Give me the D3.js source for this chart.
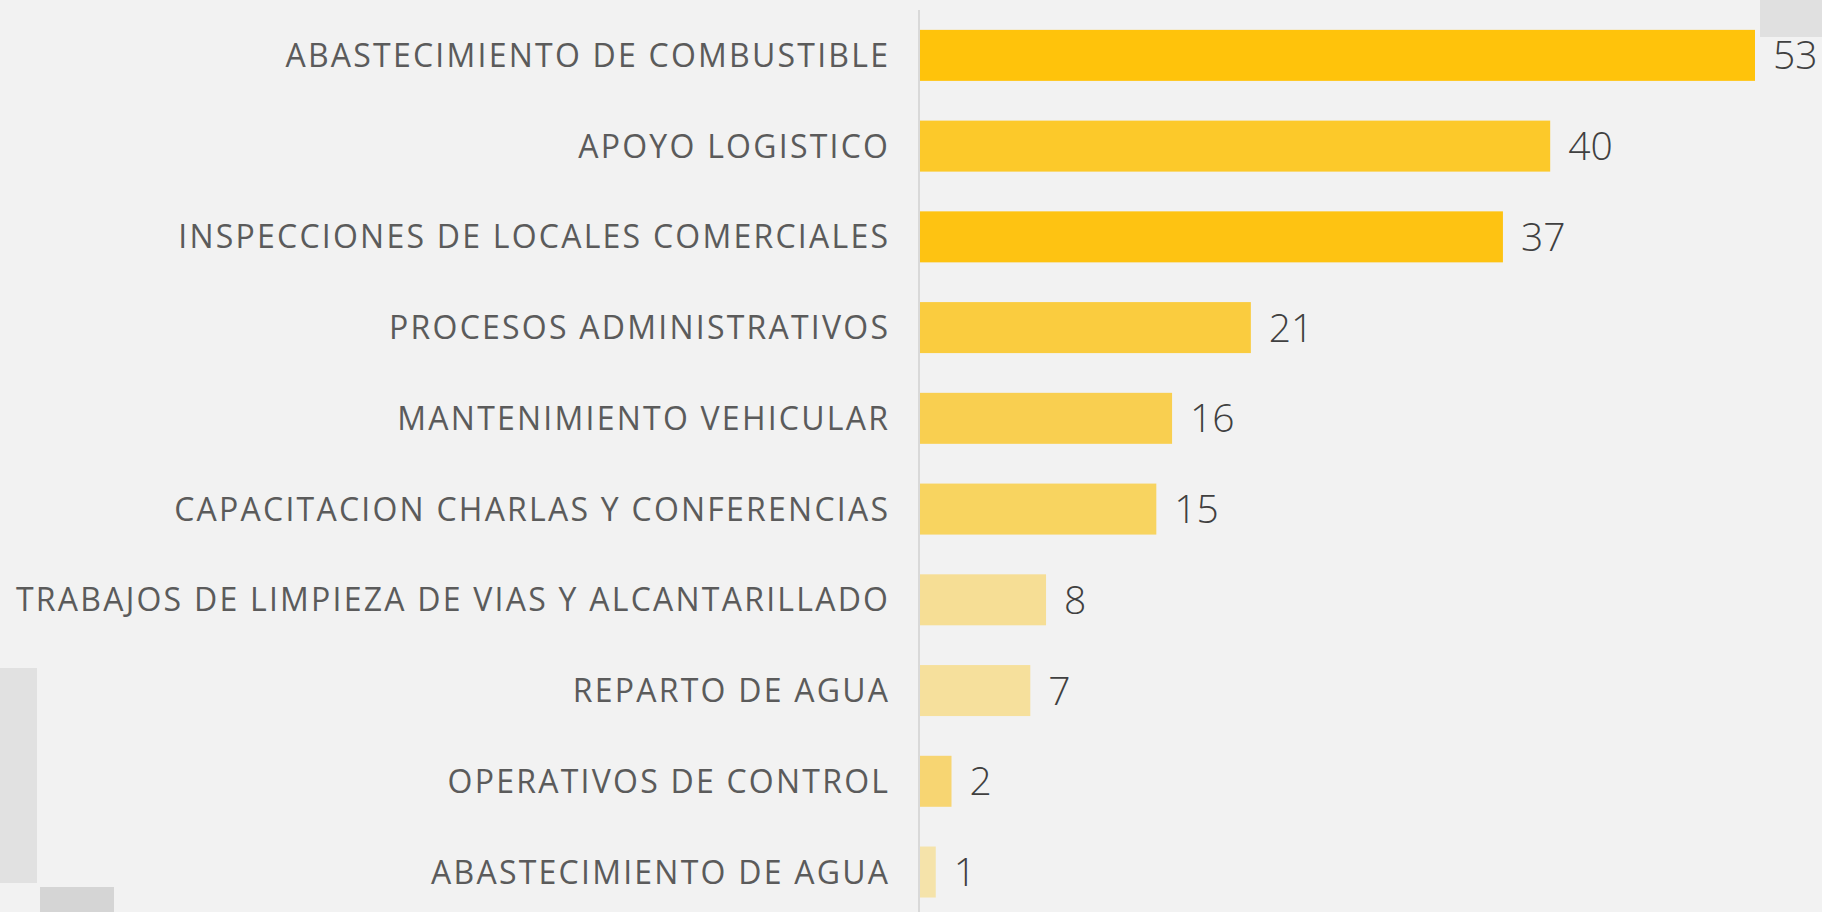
<!DOCTYPE html>
<html>
<head>
<meta charset="utf-8">
<script src="https://cdn.jsdelivr.net/npm/d3@7"></script>
<style>
  html, body { margin: 0; padding: 0; background: #F2F2F2; }
  svg { display: block; }
</style>
</head>
<body>
<svg id="chart" width="1822" height="912"></svg>
<script>
const categories = [
  "ABASTECIMIENTO DE COMBUSTIBLE",
  "APOYO LOGISTICO",
  "INSPECCIONES DE LOCALES COMERCIALES",
  "PROCESOS ADMINISTRATIVOS",
  "MANTENIMIENTO VEHICULAR",
  "CAPACITACION CHARLAS Y CONFERENCIAS",
  "TRABAJOS DE LIMPIEZA DE VIAS Y ALCANTARILLADO",
  "REPARTO DE AGUA",
  "OPERATIVOS DE CONTROL",
  "ABASTECIMIENTO DE AGUA"
];
const values = [53, 40, 37, 21, 16, 15, 8, 7, 2, 1];
const barColors = ["#FFC30B", "#FCC92A", "#FEC312", "#FACC3F", "#F9CF50", "#F8D460", "#F6DE95", "#F6E09C", "#F7D572", "#F5E3AA"];

const svg = d3.select("#chart");
const W = 1822, H = 912;

svg.append("rect").attr("width", W).attr("height", H).attr("fill", "#F2F2F2");

// decorative blocks
svg.append("rect").attr("x", 1760).attr("y", 0).attr("width", 62).attr("height", 37).attr("fill", "#E0E0E0");
svg.append("rect").attr("x", 0).attr("y", 668).attr("width", 37).attr("height", 215).attr("fill", "#E1E1E1");
svg.append("rect").attr("x", 40).attr("y", 887).attr("width", 74).attr("height", 25).attr("fill", "#D5D5D5");

const y = d3.scaleBand()
  .domain(categories)
  .range([10, 917.4])
  .paddingInner(0.438)
  .paddingOuter(0.219);

const x = d3.scaleLinear()
  .domain([0, 53])
  .range([920, 1755]);

// axis line
svg.append("line")
  .attr("x1", 919).attr("x2", 919)
  .attr("y1", 10).attr("y2", H)
  .attr("stroke", "#D9D9D9").attr("stroke-width", 2);

const rows = categories.map((c, i) => ({ c, v: values[i], col: barColors[i] }));

svg.append("g").selectAll("rect")
  .data(rows)
  .join("rect")
  .attr("x", x(0))
  .attr("y", d => y(d.c))
  .attr("width", d => x(d.v) - x(0))
  .attr("height", y.bandwidth())
  .attr("fill", d => d.col);

// category labels
const labFont = 32;
const labels = svg.append("g").selectAll("text")
  .data(rows)
  .join("text")
  .attr("x", 888)
  .attr("y", d => y(d.c) + y.bandwidth() / 2)
  .attr("dy", "0.36em")
  .attr("text-anchor", "end")
  .attr("font-family", "'Open Sans', sans-serif")
  .attr("font-weight", 400)
  .attr("font-size", labFont)
  .attr("fill", "#5B5B5B")
  .text(d => d.c);

// fit longest label width to reference (~872px) with letter spacing
let longest = null, maxW = 0;
labels.each(function(d) { const w = this.getComputedTextLength(); if (w > maxW) { maxW = w; longest = d.c; } });
const ls = Math.max(0, (872 - maxW) / (longest.length - 1));
labels.attr("letter-spacing", ls).attr("dx", ls);

// value labels
svg.append("g").selectAll("text")
  .data(rows)
  .join("text")
  .attr("x", d => x(d.v) + 18)
  .attr("y", d => y(d.c) + y.bandwidth() / 2)
  .attr("dy", "0.36em")
  .attr("font-family", "'Open Sans', sans-serif")
  .attr("font-weight", 300)
  .attr("font-size", 39)
  .attr("fill", "#404040")
  .text(d => d.v);
</script>
</body>
</html>
